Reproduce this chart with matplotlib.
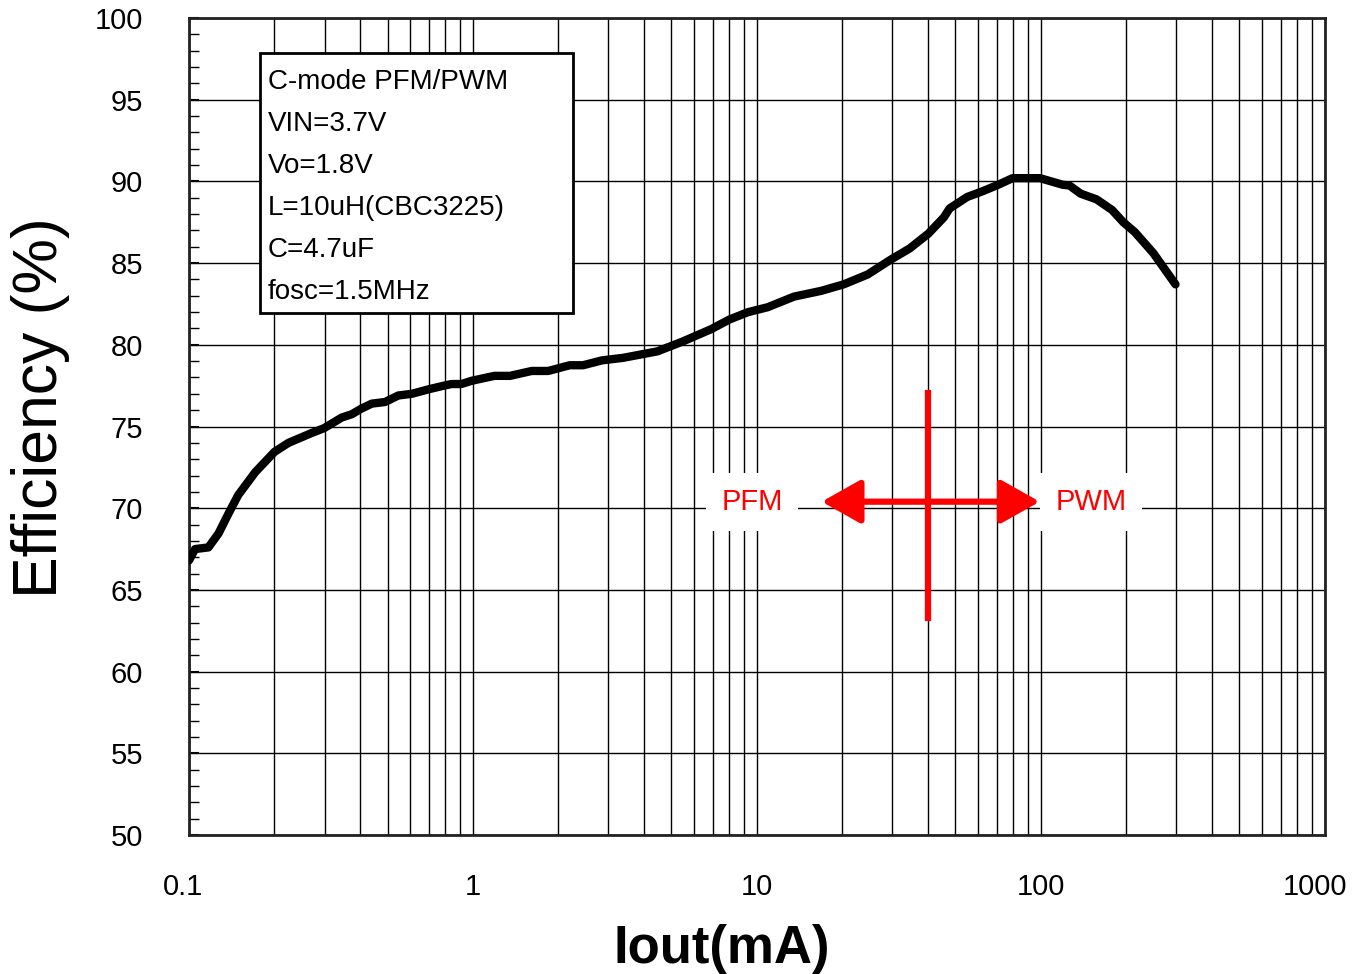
import numpy as np
import matplotlib
matplotlib.use("Agg")
import matplotlib.pyplot as plt
from matplotlib.patches import Rectangle
from matplotlib.ticker import FixedLocator, MultipleLocator, NullFormatter
from matplotlib.transforms import ScaledTranslation

# efficiency curve
iout_ma = [0.1, 0.105, 0.117, 0.127, 0.138, 0.149, 0.171, 0.200, 0.224, 0.270,
           0.299, 0.345, 0.374, 0.405, 0.44, 0.49, 0.546, 0.608, 0.706, 0.79,
           0.84, 0.91, 0.99, 1.19, 1.35, 1.61, 1.84, 2.19, 2.44, 2.85,
           3.37, 4.46, 5.47, 6.88, 8.0, 9.3, 10.9, 13.5, 16.8, 20.2,
           24.5, 29.5, 34.5, 40.1, 45.5, 47.7, 55.0, 62.3, 70.8, 79.4,
           99.2, 119, 126, 138, 157, 178, 195, 214, 249, 297.6]
eff_pct = [66.8, 67.5, 67.6, 68.45, 69.7, 70.8, 72.2, 73.45, 74.0, 74.6,
           74.9, 75.55, 75.75, 76.1, 76.4, 76.5, 76.9, 77.0, 77.3, 77.5,
           77.6, 77.6, 77.8, 78.1, 78.1, 78.4, 78.4, 78.75, 78.75, 79.05,
           79.2, 79.6, 80.2, 80.95, 81.55, 82.0, 82.3, 82.95, 83.3, 83.7,
           84.3, 85.2, 85.9, 86.8, 87.8, 88.35, 89.05, 89.4, 89.8, 90.2,
           90.2, 89.8, 89.75, 89.25, 88.9, 88.25, 87.5, 86.9, 85.6, 83.7]

x_ticks = [0.1, 1, 10, 100, 1000]
x_tick_labels = ["0.1", "1", "10", "100", "1000"]
y_ticks = list(range(50, 101, 5))

info_lines = ["C-mode PFM/PWM", "VIN=3.7V", "Vo=1.8V", "L=10uH(CBC3225)",
              "C=4.7uF", "fosc=1.5MHz"]

boundary_ma = 40          # PFM/PWM switch point
arrow_span = (16.9, 99)   # arrow ends
arrow_y = 70.4
boundary_y = (63.3, 77.05)

font = ["Liberation Sans", "DejaVu Sans"]
plt.rcParams["font.family"] = font

fig = plt.figure(figsize=(13.52, 9.74), dpi=100)
ax = fig.add_axes([0.1398, 0.1427, 0.8402, 0.8388])

ax.set_xscale("log")
ax.set_xlim(0.1, 1000)
ax.set_ylim(50, 100)

# grid: every 1..9 per decade, every 5 %
minor_x = [m * 10.0 ** e for e in range(-1, 3) for m in range(2, 10)]
ax.xaxis.set_major_locator(FixedLocator(x_ticks))
ax.xaxis.set_minor_locator(FixedLocator(minor_x))
ax.xaxis.set_minor_formatter(NullFormatter())
ax.set_xticks(x_ticks)
ax.set_xticklabels(x_tick_labels)
ax.set_yticks(y_ticks)
ax.yaxis.set_minor_locator(MultipleLocator(1))
ax.grid(True, which="both", axis="x", color="black", lw=1.0)
ax.grid(True, which="major", axis="y", color="black", lw=1.0)

ax.tick_params(axis="x", which="both", length=0, pad=27, labelsize=21)
ax.tick_params(axis="y", which="major", direction="in", length=7, width=1.5,
               pad=33, labelsize=21)
ax.tick_params(axis="y", which="minor", direction="in", length=7, width=1.0)
labs = ax.get_xticklabels()
labs[0].set_transform(labs[0].get_transform() + ScaledTranslation(-6 / 100, 0, fig.dpi_scale_trans))
labs[-1].set_transform(labs[-1].get_transform() + ScaledTranslation(-10 / 100, 0, fig.dpi_scale_trans))

for sp in ax.spines.values():
    sp.set_linewidth(2)
    sp.set_color("#222222")

ax.plot(iout_ma, eff_pct, color="black", lw=6, solid_capstyle="round",
        solid_joinstyle="round", zorder=5)

# PFM / PWM marker
ax.plot([boundary_ma, boundary_ma], boundary_y, color="red", lw=4.5, zorder=6)
ax.annotate("", xy=(arrow_span[1], arrow_y), xytext=(arrow_span[0], arrow_y),
            arrowprops=dict(arrowstyle="<|-|>,head_length=0.8,head_width=0.45",
                            color="red", lw=4.5, mutation_scale=30,
                            shrinkA=0, shrinkB=0), zorder=6)
ax.text(9.6, arrow_y, "PFM", color="red", fontsize=21,
        ha="center", va="center", zorder=7,
        bbox=dict(facecolor="white", edgecolor="none", pad=11))
ax.text(150, arrow_y, "PWM", color="red", fontsize=21,
        ha="center", va="center", zorder=7,
        bbox=dict(facecolor="white", edgecolor="none", pad=11))

# info box
ax.add_patch(Rectangle((0.0625, 0.639), 0.2755, 0.318, transform=ax.transAxes,
                       facecolor="white", edgecolor="black", lw=2, zorder=8))
for i, line in enumerate(info_lines):
    ax.text(0.0695, 0.9217 - i * 0.0514, line, transform=ax.transAxes,
            fontsize=20, ha="left", va="center", zorder=9)

ax.set_xlabel("Iout(mA)", fontsize=38, fontweight="bold")
ax.xaxis.set_label_coords(0.469, -0.109)
ax.set_ylabel("Efficiency (%)", fontsize=45)
ax.yaxis.set_label_coords(-0.105, 0.523)

fig.savefig("out.png", dpi=100)
